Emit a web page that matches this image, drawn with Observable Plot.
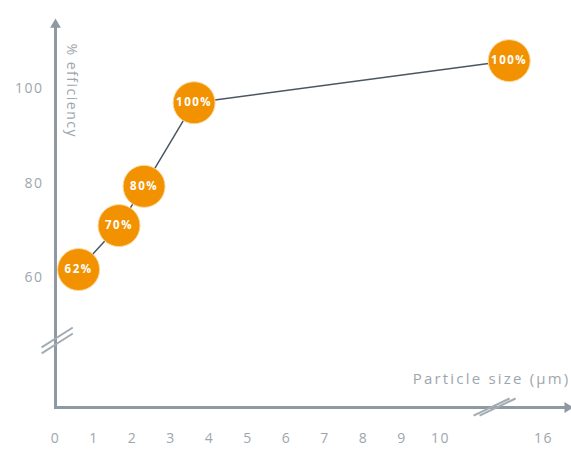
<!DOCTYPE html>
<html>
<head>
<meta charset="utf-8">
<script src="https://cdn.jsdelivr.net/npm/d3@7"></script>
<script src="https://cdn.jsdelivr.net/npm/@observablehq/plot@0.6"></script>
<style>
  html, body { margin: 0; padding: 0; background: #fff; }
  #chart svg { display: block; }
  #chart svg text { letter-spacing: 1.5px; }
  #chart svg .xtitle text { letter-spacing: 2.2px; }
</style>
</head>
<body>
<div id="chart"></div>
<script>
// Data
const particleSize = [0.6, 1.65, 2.3, 3.6, 14];
const efficiency = [61.7, 71, 79.3, 97, 105.9];
const pointLabels = ["62%", "70%", "80%", "100%", "100%"];
const xTicks = [0, 1, 2, 3, 4, 5, 6, 7, 8, 9, 10, 16];
const yTicks = [60, 80, 100];
const xTitle = "Particle size (µm)";
const yTitle = "% efficiency";

const points = particleSize.map((x, i) => ({x, y: efficiency[i], label: pointLabels[i]}));

// axis extents (data units)
const yMin = 32.5, yMax = 113.5, xMax = 17.4;
const axes = [
  {x1: 0, y1: yMin, x2: 0, y2: yMax},
  {x1: 0, y1: yMin, x2: xMax, y2: yMin}
];
const arrowHeads = [
  {x: 0, y: yMax, angle: 0},
  {x: xMax, y: yMin, angle: 90}
];
const yBreak = [{x1: -0.36, y1: 44.6, x2: 0.45, y2: 48.8}];
const xBreak = [{x1: 12.1, y1: 30.8, x2: 14.2, y2: 34.4}];

const axisColor = "#8e99a2";
const labelColor = "#9ea6ad";
const orange = "#f39200";

const chart = Plot.plot({
  width: 571,
  height: 449,
  marginLeft: 55,
  marginTop: 20,
  marginBottom: 42,
  marginRight: 1,
  style: {fontFamily: "'Open Sans', sans-serif", fontSize: "14px", background: "#fff"},
  x: {type: "linear", domain: [0, 10, 16], range: [55, 440, 543], label: null},
  y: {type: "linear", domain: [32.5, 114.4], range: [407, 20], label: null},
  marks: [
    Plot.link(axes, {x1: "x1", y1: "y1", x2: "x2", y2: "y2", stroke: axisColor, strokeWidth: 3, strokeLinecap: "square"}),
    Plot.dot(arrowHeads, {x: "x", y: "y", rotate: "angle", symbol: "triangle", r: 4, fill: axisColor, stroke: "none"}),
    Plot.link(yBreak, {x1: "x1", y1: "y1", x2: "x2", y2: "y2", stroke: "#a3acb3", strokeWidth: 2, dy: -3}),
    Plot.link(yBreak, {x1: "x1", y1: "y1", x2: "x2", y2: "y2", stroke: "#a3acb3", strokeWidth: 2, dy: 3}),
    Plot.link(xBreak, {x1: "x1", y1: "y1", x2: "x2", y2: "y2", stroke: "#a3acb3", strokeWidth: 2, dx: -3}),
    Plot.link(xBreak, {x1: "x1", y1: "y1", x2: "x2", y2: "y2", stroke: "#a3acb3", strokeWidth: 2, dx: 3}),
    Plot.axisX({ticks: xTicks, tickSize: 0, tickPadding: 26, color: labelColor, tickFormat: d => String(d), label: null, fontSize: 14}),
    Plot.axisY({ticks: yTicks, tickSize: 0, tickPadding: 12, color: labelColor, tickFormat: d => String(d), label: null, fontSize: 14}),
    Plot.line(points, {x: "x", y: "y", stroke: "#4b5661", strokeWidth: 1.5}),
    Plot.dot(points, {x: "x", y: "y", r: 21, fill: orange, stroke: "#fbd9a0", strokeWidth: 1}),
    Plot.text(points, {x: "x", y: "y", text: "label", fill: "#fff", fontWeight: "bold", fontSize: 11.5}),
    Plot.text([yTitle], {frameAnchor: "top-left", dx: 21, dy: 23, rotate: 90, textAnchor: "start", fill: labelColor, fontSize: 14}),
    Plot.text([xTitle], {frameAnchor: "bottom-right", dy: -24, dx: 0, textAnchor: "end", fill: labelColor, fontSize: 15, className: "xtitle"})
  ]
});
document.getElementById("chart").appendChild(chart);
</script>
</body>
</html>
